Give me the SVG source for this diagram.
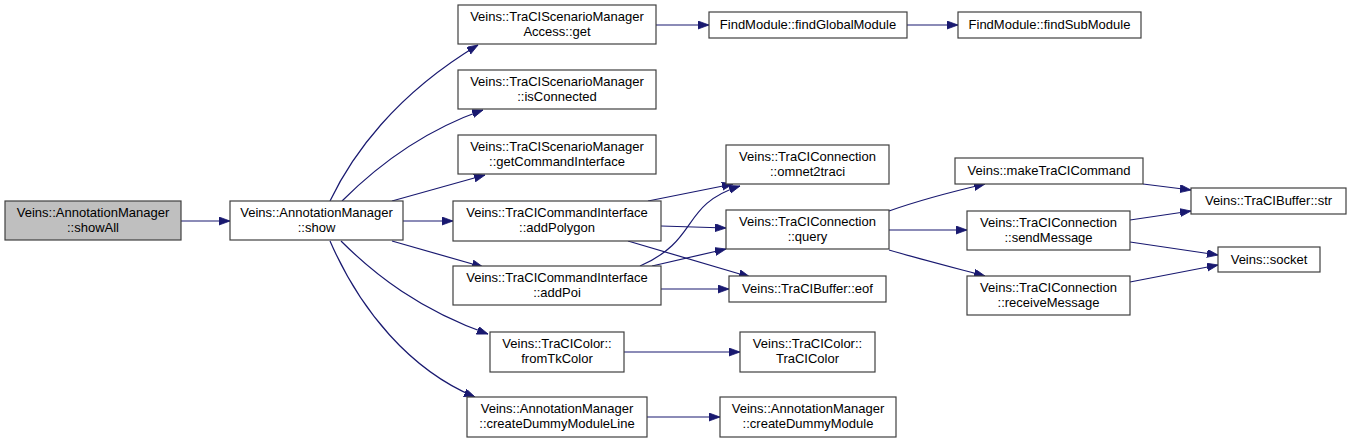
<svg xmlns="http://www.w3.org/2000/svg" width="1352" height="443" viewBox="0 0 1352 443">
<style>
.n rect{fill:#ffffff;stroke:#404040;stroke-width:1.2}
.n.root rect{fill:#bfbfbf}
.n text{font-family:"Liberation Sans",Arial,sans-serif;font-size:13px;fill:#000;text-anchor:middle}
.e path{fill:none;stroke:#191970;stroke-width:1.2;marker-end:url(#ah)}
</style>
<defs>
<marker id="ah" markerUnits="userSpaceOnUse" markerWidth="12" markerHeight="9" refX="11" refY="4" orient="auto">
<path d="M0,0 L11,4 L0,8 z" fill="#191970" stroke="#191970" stroke-width="0.8"/>
</marker>
</defs>
<rect width="1352" height="443" fill="#ffffff"/>
<g id="edges" class="e">
<path d="M181,221 L230,221"/>
<path d="M330,201 C352,155 395,95 478,45"/>
<path d="M342,201 C375,168 420,132 483,110"/>
<path d="M392,201 L485,175"/>
<path d="M403,221 L453,221"/>
<path d="M392,241 L483,267"/>
<path d="M341,241 C375,275 420,310 488,334"/>
<path d="M330,241 C360,310 410,370 475,397"/>
<path d="M656,25 L709,25"/>
<path d="M907,25 L958,25"/>
<path d="M648,201 L733,184"/>
<path d="M661,226 L726,228"/>
<path d="M628,241 L750,277"/>
<path d="M640,266 C700,240 680,205 740,186"/>
<path d="M652,266 L726,249"/>
<path d="M661,289 L729,289"/>
<path d="M889,211 C920,200 955,191 985,184"/>
<path d="M889,230 L967,230"/>
<path d="M889,250 C920,259 955,268 985,276"/>
<path d="M1143,184 L1191,190"/>
<path d="M1130,220 L1191,211"/>
<path d="M1130,242 L1218,255"/>
<path d="M1130,282 L1218,265"/>
<path d="M624,352 L740,352"/>
<path d="M647,417 L720,417"/>
</g>
<g id="showAll" class="n root"><rect x="5" y="201" width="176" height="39"/><text x="93" y="217">Veins::AnnotationManager</text><text x="93" y="232">::showAll</text></g>
<g id="show" class="n"><rect x="230" y="201" width="173" height="39"/><text x="316.5" y="217">Veins::AnnotationManager</text><text x="316.5" y="232">::show</text></g>
<g id="smaGet" class="n"><rect x="458" y="5" width="198" height="39"/><text x="557" y="21">Veins::TraCIScenarioManager</text><text x="557" y="36">Access::get</text></g>
<g id="isConnected" class="n"><rect x="458" y="70" width="198" height="39"/><text x="557" y="86">Veins::TraCIScenarioManager</text><text x="557" y="101">::isConnected</text></g>
<g id="getCommandInterface" class="n"><rect x="458" y="135" width="198" height="39"/><text x="557" y="151">Veins::TraCIScenarioManager</text><text x="557" y="166">::getCommandInterface</text></g>
<g id="addPolygon" class="n"><rect x="453" y="201" width="208" height="40"/><text x="557" y="217">Veins::TraCICommandInterface</text><text x="557" y="232">::addPolygon</text></g>
<g id="addPoi" class="n"><rect x="453" y="266" width="208" height="39"/><text x="557" y="282">Veins::TraCICommandInterface</text><text x="557" y="297">::addPoi</text></g>
<g id="omnet2traci" class="n"><rect x="726" y="145" width="163" height="39"/><text x="807.5" y="161">Veins::TraCIConnection</text><text x="807.5" y="176">::omnet2traci</text></g>
<g id="query" class="n"><rect x="726" y="210" width="163" height="39"/><text x="807.5" y="226">Veins::TraCIConnection</text><text x="807.5" y="241">::query</text></g>
<g id="eof" class="n"><rect x="729" y="276" width="157" height="26"/><text x="807.5" y="293">Veins::TraCIBuffer::eof</text></g>
<g id="findGlobalModule" class="n"><rect x="709" y="12" width="198" height="26"/><text x="808" y="29">FindModule::findGlobalModule</text></g>
<g id="findSubModule" class="n"><rect x="958" y="12" width="183" height="26"/><text x="1049.5" y="29">FindModule::findSubModule</text></g>
<g id="makeTraCICommand" class="n"><rect x="955" y="158" width="188" height="26"/><text x="1049" y="175">Veins::makeTraCICommand</text></g>
<g id="str" class="n"><rect x="1191" y="188" width="155" height="26"/><text x="1268.5" y="205">Veins::TraCIBuffer::str</text></g>
<g id="sendMessage" class="n"><rect x="967" y="211" width="163" height="39"/><text x="1048.5" y="227">Veins::TraCIConnection</text><text x="1048.5" y="242">::sendMessage</text></g>
<g id="socket" class="n"><rect x="1218" y="247" width="102" height="25"/><text x="1269" y="264">Veins::socket</text></g>
<g id="receiveMessage" class="n"><rect x="967" y="276" width="163" height="39"/><text x="1048.5" y="292">Veins::TraCIConnection</text><text x="1048.5" y="307">::receiveMessage</text></g>
<g id="fromTkColor" class="n"><rect x="490" y="332" width="134" height="40"/><text x="557" y="348">Veins::TraCIColor::</text><text x="557" y="363">fromTkColor</text></g>
<g id="traCIColor" class="n"><rect x="740" y="332" width="135" height="40"/><text x="807.5" y="348">Veins::TraCIColor::</text><text x="807.5" y="363">TraCIColor</text></g>
<g id="createDummyModuleLine" class="n"><rect x="467" y="397" width="180" height="40"/><text x="557" y="413">Veins::AnnotationManager</text><text x="557" y="428">::createDummyModuleLine</text></g>
<g id="createDummyModule" class="n"><rect x="720" y="397" width="176" height="40"/><text x="808" y="413">Veins::AnnotationManager</text><text x="808" y="428">::createDummyModule</text></g>
</svg>
